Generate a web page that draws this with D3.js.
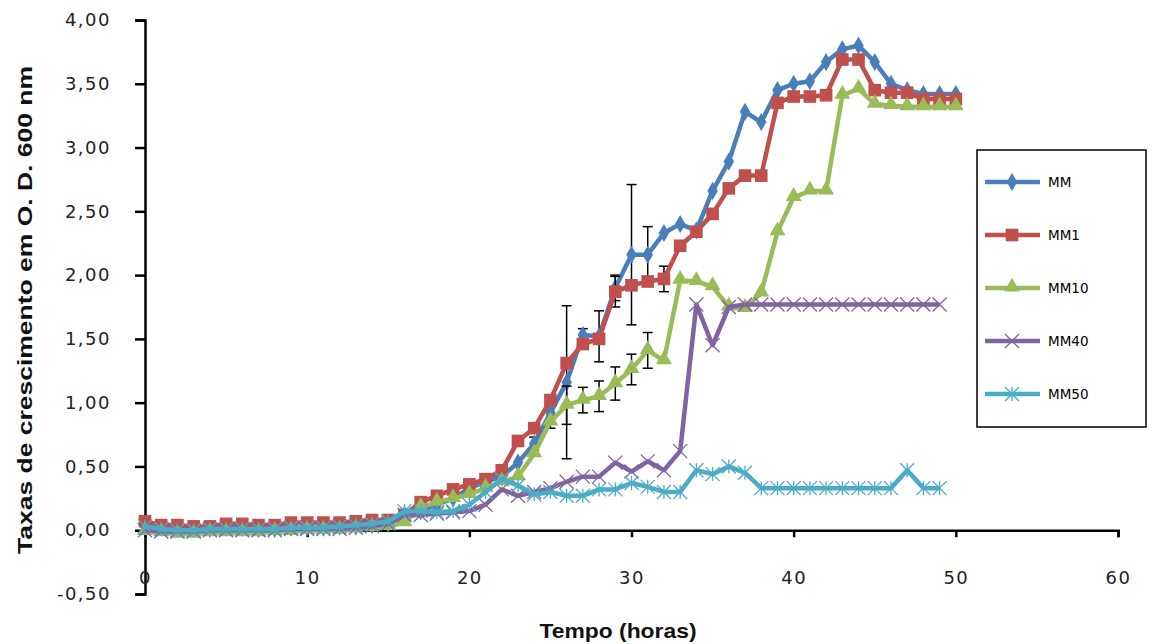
<!DOCTYPE html>
<html>
<head>
<meta charset="utf-8">
<script src="https://cdn.jsdelivr.net/npm/d3@7"></script>
<style>
  body { margin: 0; background: #fff; }
  svg { display: block; }
</style>
</head>
<body>
<svg id="chart" width="1152" height="644"></svg>
<script>
"use strict";

// hours 0..50
const hours = d3.range(0, 51);

const seriesNames = ["MM", "MM1", "MM10", "MM40", "MM50"];

const mmValues = [0.04, 0.02, 0.01, 0.01, 0.01, 0.02, 0.02, 0.01, 0.01, 0.02, 0.02, 0.02, 0.03, 0.03, 0.04, 0.05,
  0.12, 0.15, 0.2, 0.25, 0.33, 0.38, 0.42, 0.53, 0.68, 0.92, 1.16, 1.53, 1.52, 1.9, 2.16, 2.16, 2.33, 2.4, 2.35,
  2.66, 2.89, 3.28, 3.2, 3.45, 3.5, 3.52, 3.67, 3.77, 3.8, 3.67, 3.5, 3.45, 3.42, 3.42, 3.42];

const mm1Values = [0.07, 0.04, 0.04, 0.03, 0.03, 0.05, 0.05, 0.04, 0.04, 0.06, 0.06, 0.06, 0.06, 0.07, 0.08, 0.08,
  0.12, 0.22, 0.27, 0.32, 0.36, 0.4, 0.47, 0.7, 0.8, 1.02, 1.31, 1.46, 1.5, 1.87, 1.92, 1.95, 1.97, 2.23, 2.34,
  2.48, 2.68, 2.78, 2.78, 3.35, 3.4, 3.4, 3.41, 3.69, 3.69, 3.45, 3.43, 3.43, 3.38, 3.38, 3.38];

const mm10Values = [-0.01, -0.02, -0.03, -0.03, -0.02, -0.02, -0.02, -0.02, -0.01, -0.01, 0.0, 0.0, 0.0, 0.01, 0.02, 0.03,
  0.06, 0.18, 0.22, 0.25, 0.28, 0.33, 0.38, 0.42, 0.6, 0.85, 0.98, 1.02, 1.05, 1.15, 1.26, 1.41, 1.33, 1.96, 1.95,
  1.91, 1.75, 1.74, 1.86, 2.34, 2.61, 2.66, 2.66, 3.41, 3.46, 3.34, 3.33, 3.32, 3.32, 3.32, 3.32];

const mm40Values = [0.0, -0.01, -0.01, -0.01, 0.0, 0.0, 0.0, 0.0, 0.0, 0.01, 0.01, 0.01, 0.01, 0.02, 0.03, 0.05,
  0.12, 0.12, 0.13, 0.14, 0.15, 0.2, 0.32, 0.27, 0.3, 0.33, 0.38, 0.42, 0.42, 0.53, 0.46, 0.54, 0.47, 0.62, 1.77,
  1.45, 1.75, 1.77, 1.77, 1.77, 1.77, 1.77, 1.77, 1.77, 1.77, 1.77, 1.77, 1.77, 1.77, 1.77];

const mm50Values = [0.03, 0.01, 0.0, 0.0, 0.01, 0.01, 0.01, 0.01, 0.01, 0.02, 0.02, 0.02, 0.03, 0.04, 0.05, 0.07,
  0.15, 0.15, 0.14, 0.15, 0.2, 0.3, 0.4, 0.35, 0.28, 0.3, 0.27, 0.27, 0.32, 0.32, 0.37, 0.34, 0.3, 0.3, 0.47,
  0.44, 0.5, 0.45, 0.33, 0.33, 0.33, 0.33, 0.33, 0.33, 0.33, 0.33, 0.33, 0.47, 0.33, 0.33];

// error bars (+/-) keyed by hour
const mmErrors = { 24: 0.05, 25: 0.12, 26: 0.6, 27: 0.05, 28: 0.2, 29: 0.1, 30: 0.55, 31: 0.22 };
const mm1Errors = { 29: 0.12, 32: 0.1 };
const mm10Errors = { 26: 0.15, 27: 0.1, 28: 0.12, 29: 0.13, 30: 0.12, 31: 0.14 };

const xTicks = [0, 10, 20, 30, 40, 50, 60];
const yTicks = [-0.5, 0, 0.5, 1, 1.5, 2, 2.5, 3, 3.5, 4];

const colors = ["#4a7ebb", "#c0504d", "#9bbb59", "#8064a2", "#4bacc6"];

const allValues = [mmValues, mm1Values, mm10Values, mm40Values, mm50Values];
const allErrors = [mmErrors, mm1Errors, mm10Errors, {}, {}];

const svg = d3.select("#chart");

const x = d3.scaleLinear().domain([0, 60]).range([145, 1118]);
const y = d3.scaleLinear().domain([-0.5, 4]).range([594, 20]);

const locale = d3.formatLocale({ decimal: ",", thousands: ".", grouping: [3], currency: ["", ""], minus: "-" });
const fmt = locale.format(".2f");

// axes
const yAxis = svg.append("g")
  .attr("transform", "translate(" + x(0) + ",0)")
  .call(d3.axisLeft(y).tickValues(yTicks).tickFormat(fmt).tickSize(10).tickPadding(24));

const xAxis = svg.append("g")
  .attr("transform", "translate(0," + y(0) + ")")
  .call(d3.axisBottom(x).tickValues(xTicks).tickFormat(d3.format("d")).tickSize(7).tickPadding(34));

[xAxis, yAxis].forEach(g => {
  g.select(".domain").attr("stroke", "#000").attr("stroke-width", 2.5);
  g.selectAll(".tick line").attr("stroke", "#000").attr("stroke-width", 2.5);
  g.selectAll(".tick text")
    .attr("fill", "#222")
    .style("font-family", "'DejaVu Sans', sans-serif")
    .style("font-size", "18px")
    .style("letter-spacing", "1.5px");
});

// marker shapes
function drawMarker(g, i, cx, cy) {
  const c = colors[i];
  if (i === 0) {
    g.append("path").attr("d", d3.symbol(d3.symbolDiamond, 95)())
      .attr("transform", "translate(" + cx + "," + cy + ")").attr("fill", c);
  } else if (i === 1) {
    g.append("path").attr("d", d3.symbol(d3.symbolSquare, 160)())
      .attr("transform", "translate(" + cx + "," + cy + ")").attr("fill", c);
  } else if (i === 2) {
    g.append("path").attr("d", d3.symbol(d3.symbolTriangle, 110)())
      .attr("transform", "translate(" + cx + "," + (cy - 1) + ")").attr("fill", c);
  } else {
    const s = 7;
    let d = "M" + (cx - s) + "," + (cy - s) + "L" + (cx + s) + "," + (cy + s) +
      "M" + (cx - s) + "," + (cy + s) + "L" + (cx + s) + "," + (cy - s);
    if (i === 4) d += "M" + cx + "," + (cy - s) + "L" + cx + "," + (cy + s);
    g.append("path").attr("d", d).attr("stroke", c).attr("stroke-width", 1.3).attr("fill", "none");
  }
}

const line = d3.line().x(d => x(d.t)).y(d => y(d.v));

allValues.forEach((vals, i) => {
  const data = vals.map((v, k) => ({ t: hours[k], v: v }));
  const g = svg.append("g").attr("class", "series-" + i);

  // error bars
  Object.keys(allErrors[i]).forEach(k => {
    const t = +k, e = allErrors[i][k], v = vals[t];
    const eg = g.append("g").attr("stroke", "#000").attr("stroke-width", 1.5);
    eg.append("line").attr("x1", x(t)).attr("x2", x(t)).attr("y1", y(v - e)).attr("y2", y(v + e));
    eg.append("line").attr("x1", x(t) - 5).attr("x2", x(t) + 5).attr("y1", y(v - e)).attr("y2", y(v - e));
    eg.append("line").attr("x1", x(t) - 5).attr("x2", x(t) + 5).attr("y1", y(v + e)).attr("y2", y(v + e));
  });

  g.append("path").datum(data)
    .attr("d", line)
    .attr("fill", "none")
    .attr("stroke", colors[i])
    .attr("stroke-width", 4.5)
    .attr("stroke-linejoin", "round");

  data.forEach(d => drawMarker(g, i, x(d.t), y(d.v)));
});

// legend
const legend = svg.append("g");
legend.append("rect")
  .attr("x", 977).attr("y", 150).attr("width", 169).attr("height", 277)
  .attr("fill", "#fff").attr("stroke", "#000").attr("stroke-width", 1.5);

seriesNames.forEach((name, i) => {
  const ly = 182 + i * 53;
  legend.append("line")
    .attr("x1", 985).attr("x2", 1040).attr("y1", ly).attr("y2", ly)
    .attr("stroke", colors[i]).attr("stroke-width", 4.5);
  drawMarker(legend, i, 1012, ly);
  legend.append("text")
    .attr("x", 1048).attr("y", ly).attr("dy", "0.35em")
    .attr("fill", "#000")
    .style("font-family", "'DejaVu Sans', sans-serif")
    .style("font-size", "13.5px")
    .text(name);
});

// axis titles
svg.append("text")
  .attr("transform", "translate(32,310) rotate(-90)")
  .attr("text-anchor", "middle")
  .attr("textLength", 488).attr("lengthAdjust", "spacingAndGlyphs")
  .style("font-family", "'Liberation Sans', Arial, sans-serif")
  .style("font-weight", "bold")
  .style("font-size", "21px")
  .attr("fill", "#111")
  .text("Taxas de crescimento em O. D. 600 nm");

svg.append("text")
  .attr("x", 618).attr("y", 638)
  .attr("text-anchor", "middle")
  .attr("textLength", 157).attr("lengthAdjust", "spacingAndGlyphs")
  .style("font-family", "'Liberation Sans', Arial, sans-serif")
  .style("font-weight", "bold")
  .style("font-size", "21px")
  .attr("fill", "#111")
  .text("Tempo (horas)");
</script>
</body>
</html>
